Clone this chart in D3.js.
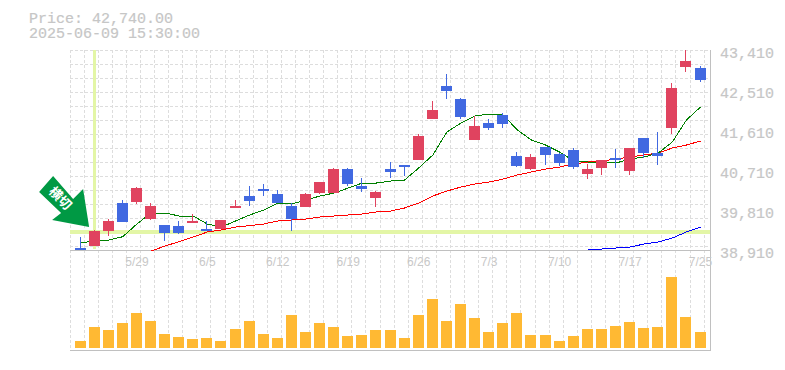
<!DOCTYPE html>
<html><head><meta charset="utf-8">
<script src="https://cdn.jsdelivr.net/npm/d3@7/dist/d3.min.js"></script>
<style>
html,body{margin:0;padding:0;background:#fff}
svg{display:block}
</style></head><body><svg id="c" width="785" height="370"></svg>
<script>
const opens  = [38955,39007,39337,39967,39990,39607,39472,39450,39517,39382,39382,39855,40125,40282,40170,39900,39877,40192,40192,40732,40350,40080,40732,40822,40935,41857,42600,42307,41385,41767,41947,41025,40732,41227,41070,41160,40620,40755,40980,40687,41430,41092,41655,43027,43005];
const highs  = [39196,39360,39601,40035,40327,39967,39472,39562,39720,39562,39585,40035,40350,40395,40260,39967,40192,40440,40755,40755,40530,40237,40890,40822,41520,42262,42870,42330,41925,41857,41992,41115,41070,41227,41092,41205,40845,40935,41182,41205,41430,41565,42667,43410,43050];
const lows   = [38910,39007,39225,39547,39952,39592,39112,39270,39517,39337,39382,39855,39900,40125,39967,39337,39877,40170,40192,40350,40215,39877,40530,40575,40935,41857,42307,41857,41385,41610,41655,40777,40710,40822,40800,40732,40507,40597,40755,40597,40980,40822,41520,42915,42690];
const closes = [38910,39337,39562,39547,40305,39900,39292,39292,39562,39337,39585,39900,40012,40244,39967,39607,40170,40440,40732,40395,40282,40215,40665,40777,41475,42060,42487,41902,41700,41655,41745,40800,41002,41047,40867,40777,40732,40935,40935,41205,41092,41025,42555,43162,42740];
const volumes = [7,21,18,25,35,27,14,11,9,10,7,19,27,14,10,33,16,25,21,12,13,18,18,10,33,49,27,44,30,16,25,35,13,13,7,12,19,19,22,26,20,21,71,31,16];
const maShort = [39083,39097,39135,39209,39495,39742,39742,39675,39675,39495,39427,39562,39697,39810,39967,39945,40035,40125,40192,40305,40417,40417,40462,40485,40755,41047,41565,41767,41925,41970,41947,41610,41385,41272,41115,40912,40890,40890,40867,40957,41002,41092,41340,41835,42127];
const maMid = [null,null,null,null,null,38887,39000,39097,39202,39315,39360,39427,39457,39495,39562,39585,39607,39652,39675,39697,39720,39765,39787,39855,39967,40125,40237,40327,40395,40440,40507,40597,40665,40732,40777,40845,40890,40912,40957,41002,41047,41092,41205,41272,41362];
const maLong = [null,null,null,null,null,null,null,null,null,null,null,null,null,null,null,null,null,null,null,null,null,null,null,null,null,null,null,null,null,null,null,null,null,null,null,null,38910,38932,38955,38977,39045,39090,39180,39315,39427];
const dateIdx = [4,9,14,19,24,29,34,39,44];
const dateLabels = ["5/29","6/5","6/12","6/19","6/26","7/3","7/10","7/17","7/25"];
const priceTicks = [43410,42510,41610,40710,39810,38910];
const markIndex = 1;
const markLabel = "横切";
const headerLines = ["Price: 42,740.00","2025-06-09 15:30:00"];

const svg = d3.select("#c");
const L=70,R=710,T=50,B=250,VB=350;
const n = closes.length;
const x = d3.scalePoint().domain(d3.range(n)).range([80.02,700.02]);
const step = x.step();
const px = i => Math.floor(x(i));
const y = d3.scaleLinear().domain([38910,43410]).range([B,T]);
const yv = d3.scaleLinear().domain([0,100]).range([VB-2,VB-102]);

svg.append("defs").append("clipPath").attr("id","pc").append("rect").attr("x",L).attr("y",T).attr("width",R-L).attr("height",B-T+2);

const grid = svg.append("g").attr("stroke","#dddddd").attr("stroke-dasharray","3,2").attr("shape-rendering","crispEdges");
d3.range(n+1).forEach(i=>{
  const gx = Math.floor(80.02+step*i)-10+0.5;
  grid.append("line").attr("x1",gx).attr("x2",gx).attr("y1",T).attr("y2",VB);
});
d3.range(T,B,14).forEach(gy=>{
  grid.append("line").attr("x1",L).attr("x2",R).attr("y1",gy+0.5).attr("y2",gy+0.5);
});

// frame
const frame = svg.append("g").attr("stroke","#c0c0c0").attr("shape-rendering","crispEdges");
frame.append("line").attr("x1",L).attr("x2",R+1).attr("y1",B+0.5).attr("y2",B+0.5);
frame.append("line").attr("x1",L).attr("x2",R+1).attr("y1",VB+0.5).attr("y2",VB+0.5);
frame.append("line").attr("x1",R+0.5).attr("x2",R+0.5).attr("y1",T).attr("y2",VB+1);

// highlight
const hl = svg.append("g").attr("fill","#e3f6a6").attr("shape-rendering","crispEdges");
hl.append("rect").attr("x",px(markIndex)-1).attr("y",T).attr("width",3).attr("height",B-T-1);
hl.append("rect").attr("x",L).attr("y",Math.round(y(closes[markIndex]))-1).attr("width",R-L).attr("height",3.5);

// moving averages
const lineOf = d3.line().defined(d=>d[1]!==null).x(d=>x(d[0])+0.5).y(d=>y(d[1]));
[[maLong,"#0000ff"],[maMid,"#ff0000"],[maShort,"#008000"]].forEach(([s,c])=>{
  svg.append("path").attr("clip-path","url(#pc)").attr("fill","none").attr("stroke",c).attr("stroke-width",1)
    .attr("shape-rendering","crispEdges").attr("d",lineOf(s.map((v,i)=>[i,v])));
});

// candles
const cg = svg.append("g").attr("clip-path","url(#pc)").attr("shape-rendering","crispEdges");
d3.range(n).forEach(i=>{
  const up = closes[i]>=opens[i], col = up?"#e0435f":"#4169e1";
  const yt = Math.round(y(Math.max(opens[i],closes[i]))), yb = Math.round(y(Math.min(opens[i],closes[i])));
  cg.append("rect").attr("x",px(i)).attr("width",1).attr("y",y(highs[i])).attr("height",y(lows[i])-y(highs[i])).attr("fill",col);
  cg.append("rect").attr("x",px(i)-5).attr("width",11).attr("y",yt).attr("height",Math.max(yb-yt,1)).attr("fill",col);
});

// volume
svg.append("g").attr("fill","#ffb933").attr("shape-rendering","crispEdges").selectAll("rect").data(volumes).join("rect")
  .attr("x",(d,i)=>px(i)-5).attr("width",11).attr("y",d=>yv(d)).attr("height",d=>yv(0)-yv(d));

// arrow
const ax = x(markIndex)+0.5, ay = y(closes[markIndex]);
const arrow = svg.append("g").attr("transform",`translate(${ax},${ay})`);
arrow.append("polygon").attr("fill","#009944").attr("points",[[-41.5,-55],[-21.5,-32],[-11.5,-42],[-5.5,-4],[-42.5,-11],[-33.5,-18],[-55.5,-39]].join(" "));
arrow.append("text").attr("transform","translate(-34,-33) rotate(45)").attr("text-anchor","middle").attr("dy","0.38em")
  .attr("font-family","'Noto Sans CJK JP'").attr("font-weight",700).attr("font-size",13).attr("fill","#fff").text(markLabel);

// axes
const ya = d3.axisRight(y).tickValues(priceTicks).tickSize(0).tickPadding(0).tickFormat(d3.format(","));
svg.append("g").attr("transform","translate(720,0)").call(ya).call(g=>g.select(".domain").remove())
  .selectAll("text").attr("font-family","'Liberation Mono'").attr("font-size",15).attr("fill","#c6c6c6").attr("stroke","#c6c6c6").attr("stroke-width",0.2).attr("dy",7.5);
const xa = d3.axisBottom(x).tickValues(dateIdx).tickSize(0).tickPadding(0).tickFormat(i=>dateLabels[dateIdx.indexOf(i)]);
svg.append("g").call(xa).call(g=>g.select(".domain").remove())
  .attr("transform",`translate(0,${B})`)
  .selectAll("text").attr("font-family","'Liberation Sans'").attr("font-size",12).attr("fill","#c8c8c8").attr("y",0).attr("dy",16);

// header
headerLines.forEach((t,k)=>svg.append("text").attr("x",29).attr("y",23+15*k).attr("font-family","'Liberation Mono'").attr("font-size",15).attr("fill","#c6c6c6").attr("stroke","#c6c6c6").attr("stroke-width",0.2).text(t));
</script></body></html>
